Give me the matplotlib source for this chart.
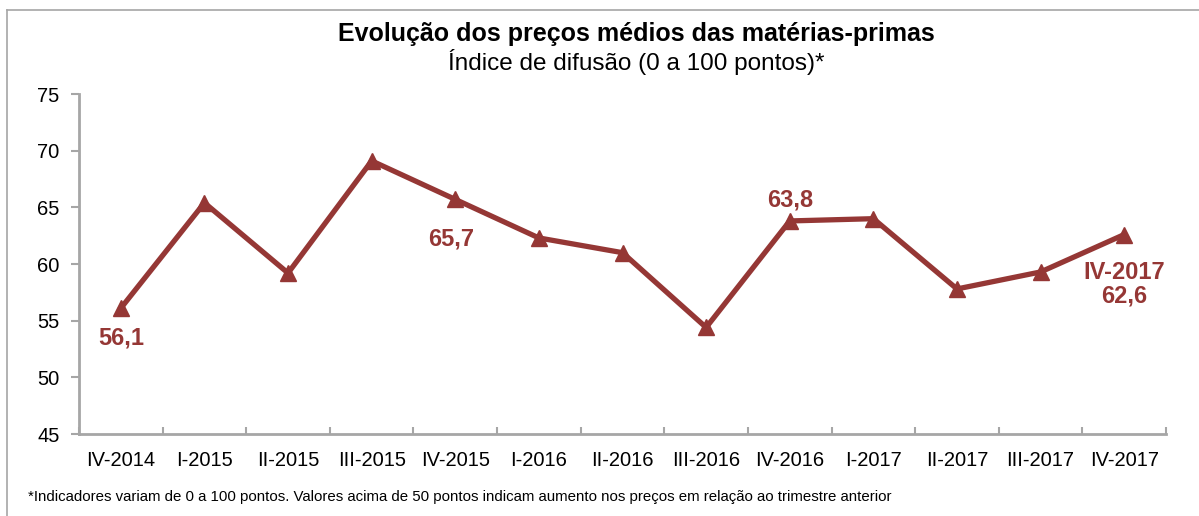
import matplotlib.pyplot as plt
from matplotlib.lines import Line2D

plt.rcParams['font.family'] = ['Liberation Sans', 'DejaVu Sans']

trimestres = ['IV-2014', 'I-2015', 'II-2015', 'III-2015', 'IV-2015', 'I-2016',
              'II-2016', 'III-2016', 'IV-2016', 'I-2017', 'II-2017', 'III-2017', 'IV-2017']
indice = [56.1, 65.4, 59.2, 69.1, 65.7, 62.3, 61.0, 54.4, 63.8, 64.0, 57.8, 59.3, 62.6]

# rótulos destacados: (índice do ponto, texto, deslocamento em pixels)
rotulos = [(0, '56,1', (0, -30)), (4, '65,7', (-4, -40)), (8, '63,8', (0, 21)),
           (12, 'IV-2017\n62,6', (0, -50))]

cor = '#953735'
cinza = '#a6a6a6'

fig = plt.figure(figsize=(11.99, 5.16), dpi=100)
ax = fig.add_axes([0.0659, 0.1589, 0.9066, 0.6589])

x = list(range(len(trimestres)))
ax.plot(x, indice, color=cor, linewidth=3.8, marker='^', markersize=11,
        solid_joinstyle='miter')

for i, txt, off in rotulos:
    ax.annotate(txt, (x[i], indice[i]), xytext=off, textcoords='offset pixels',
                ha='center', va='center', color=cor, fontsize=17, fontweight='bold',
                linespacing=1.05)

ax.set_ylim(45, 75)
ax.set_yticks(range(45, 80, 5))
ax.set_xlim(-0.5, len(trimestres) - 0.5)
ax.set_xticks(x)
ax.set_xticklabels(trimestres)
ax.set_xticks([i - 0.5 for i in range(len(trimestres) + 1)], minor=True)
ax.tick_params(axis='x', which='major', length=0, pad=12, labelsize=14.5)
ax.tick_params(axis='x', which='minor', length=5, width=1.5, color=cinza, direction='in')
ax.tick_params(axis='y', length=6, width=1.5, color=cinza, labelsize=14.5, pad=8)

for s in ['top', 'right']:
    ax.spines[s].set_visible(False)
for s in ['left', 'bottom']:
    ax.spines[s].set_color(cinza)
    ax.spines[s].set_linewidth(2)

fig.text(0.531, 0.935, 'Evolução dos preços médios das matérias-primas',
         ha='center', va='center', fontsize=18, fontweight='bold')
fig.text(0.531, 0.879, 'Índice de difusão (0 a 100 pontos)*',
         ha='center', va='center', fontsize=17.5)
fig.text(0.023, 0.037, '*Indicadores variam de 0 a 100 pontos. Valores acima de 50 pontos '
         'indicam aumento nos preços em relação ao trimestre anterior',
         ha='left', va='center', fontsize=10.8)

# moldura (só topo e esquerda visíveis no recorte)
fig.add_artist(Line2D([0.006, 1.0], [0.981, 0.981], color=cinza, linewidth=1.2))
fig.add_artist(Line2D([0.006, 0.006], [0.0, 0.981], color=cinza, linewidth=1.2))

fig.savefig('out.png', dpi=100)
